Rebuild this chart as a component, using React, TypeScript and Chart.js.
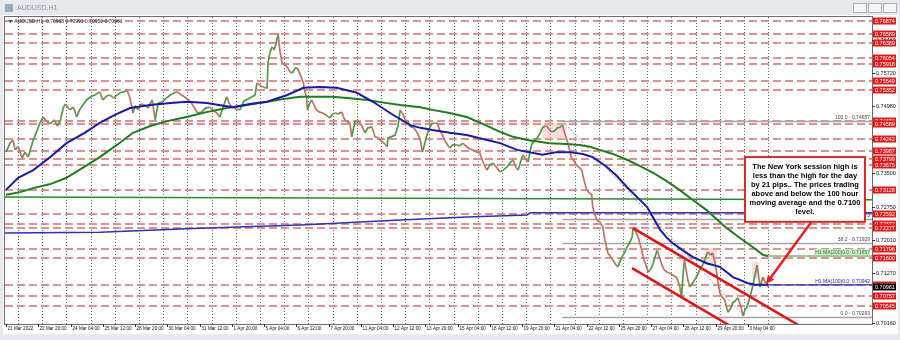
import React, { useEffect, useRef } from "react";
import { Chart, registerables } from "chart.js";
Chart.register(...registerables);

// ---------- DATA (bar index, price) ----------
const priceSeries: [number, number][] = [
  [0,0.7396],[4,0.7416],[7,0.7423],[9,0.7401],[12,0.7408],[16,0.7383],[19,0.7396],[22,0.7385],[24,0.7401],[27,0.7423],
  [31,0.7445],[34,0.7463],[37,0.7474],[40,0.7465],[44,0.7459],[48,0.7468],[51,0.7454],[54,0.7468],[57,0.7496],[59,0.7503],
  [63,0.7490],[67,0.7496],[70,0.7474],[73,0.7490],[77,0.7503],[80,0.7512],[84,0.7519],[88,0.7523],[93,0.7530],[96,0.7512],
  [100,0.7521],[103,0.7523],[107,0.7516],[110,0.7523],[113,0.7528],[117,0.7530],[120,0.7534],[123,0.7516],[126,0.7483],[128,0.7499],
  [131,0.7490],[134,0.7503],[137,0.7501],[141,0.7494],[145,0.7512],[148,0.7468],[151,0.7505],[155,0.7508],[159,0.7516],[163,0.7523],
  [167,0.7528],[170,0.7530],[174,0.7523],[177,0.7519],[181,0.7512],[184,0.7505],[187,0.7494],[190,0.7483],[194,0.7485],[198,0.7494],
  [202,0.7496],[205,0.7490],[209,0.7483],[212,0.7474],[215,0.7494],[219,0.7519],[222,0.7501],[225,0.7496],[228,0.7492],[232,0.7490],
  [236,0.7510],[240,0.7514],[244,0.7519],[247,0.7523],[249,0.7550],[253,0.7543],[257,0.7539],[259,0.7539],[260,0.7597],[262,0.7619],
  [264,0.7630],[266,0.7623],[268,0.7639],[270,0.7661],[271,0.7634],[272,0.7617],[274,0.7594],[277,0.7590],[279,0.7585],[282,0.7574],
  [284,0.7572],[287,0.7583],[289,0.7583],[292,0.7568],[295,0.7550],[296,0.7534],[298,0.7519],[299,0.7490],[301,0.7503],[303,0.7512],
  [306,0.7499],[308,0.7490],[311,0.7485],[314,0.7483],[317,0.7479],[321,0.7472],[324,0.7481],[326,0.7483],[329,0.7481],[333,0.7485],
  [336,0.7468],[339,0.7463],[341,0.7461],[343,0.7430],[346,0.7463],[349,0.7465],[351,0.7461],[354,0.7450],[356,0.7439],[359,0.7450],
  [363,0.7452],[366,0.7430],[369,0.7428],[373,0.7419],[376,0.7414],[378,0.7408],[379,0.7428],[382,0.7430],[386,0.7434],[389,0.7456],
  [391,0.7490],[394,0.7479],[396,0.7468],[399,0.7463],[401,0.7452],[404,0.7452],[408,0.7439],[411,0.7423],[413,0.7396],[415,0.7412],
  [417,0.7430],[420,0.7450],[423,0.7461],[426,0.7459],[428,0.7461],[430,0.7445],[433,0.7434],[436,0.7419],[440,0.7405],[443,0.7412],
  [447,0.7412],[450,0.7410],[453,0.7416],[457,0.7408],[460,0.7403],[463,0.7401],[467,0.7396],[470,0.7394],[473,0.7374],[477,0.7356],
  [480,0.7367],[483,0.7372],[487,0.7361],[490,0.7352],[493,0.7356],[497,0.7363],[500,0.7372],[503,0.7379],[506,0.7361],[508,0.7356],
  [511,0.7379],[513,0.7390],[516,0.7379],[518,0.7374],[520,0.7401],[522,0.7416],[525,0.7423],[527,0.7428],[530,0.7439],[532,0.7450],
  [535,0.7454],[537,0.7452],[540,0.7443],[542,0.7441],[545,0.7445],[547,0.7450],[550,0.7452],[552,0.7456],[554,0.7439],[557,0.7419],
  [559,0.7401],[561,0.7383],[564,0.7374],[566,0.7367],[569,0.7361],[571,0.7356],[574,0.7328],[576,0.7312],[579,0.7305],[581,0.7301],
  [582,0.7274],[584,0.7258],[586,0.7245],[589,0.7241],[592,0.7230],[594,0.7201],[597,0.7172],[600,0.7163],[602,0.7156],[605,0.7145],
  [607,0.7141],[609,0.7152],[611,0.7163],[614,0.7174],[616,0.7185],[619,0.7196],[621,0.7207],[622,0.7227],[625,0.7218],[627,0.7207],
  [630,0.7183],[632,0.7163],[635,0.7143],[637,0.7129],[640,0.7138],[642,0.7149],[644,0.7165],[646,0.7178],[649,0.7156],[651,0.7143],
  [653,0.7134],[656,0.7129],[658,0.7127],[661,0.7123],[665,0.7118],[668,0.7101],[670,0.7074],[672,0.7134],[673,0.7156],[676,0.7116],
  [678,0.7096],[681,0.7105],[683,0.7112],[686,0.7123],[688,0.7134],[691,0.7145],[693,0.7156],[696,0.7174],[699,0.7167],[701,0.7172],
  [703,0.7152],[705,0.7127],[708,0.7083],[711,0.7072],[713,0.7067],[716,0.7040],[719,0.7049],[721,0.7061],[724,0.7067],[726,0.7072],
  [729,0.7052],[731,0.7032],[733,0.7045],[735,0.7052],[738,0.7074],[741,0.7101],[743,0.7123],[745,0.7145],[747,0.7112],[748,0.7096],
  [750,0.7112],[751,0.7118],[753,0.7107],[755,0.7105],[756,0.7096],
];

const ma100Series: [number, number][] = [
  [0,0.7312],[12,0.7339],[27,0.7356],[44,0.7385],[60,0.7416],[78,0.7439],[93,0.7461],[108,0.7479],[123,0.7494],[143,0.7501],
  [163,0.7505],[180,0.7508],[199,0.7505],[225,0.7496],[242,0.7503],[259,0.7508],[279,0.7523],[295,0.7539],[311,0.7541],[328,0.7539],
  [348,0.7528],[364,0.7508],[381,0.7483],[401,0.7456],[411,0.7450],[423,0.7445],[440,0.7439],[457,0.7434],[473,0.7425],[490,0.7416],
  [507,0.7401],[523,0.7394],[532,0.7390],[546,0.7396],[559,0.7396],[572,0.7392],[582,0.7385],[596,0.7363],[606,0.7343],[616,0.7318],
  [626,0.7296],[636,0.7274],[642,0.7250],[649,0.7223],[655,0.7207],[661,0.7194],[671,0.7178],[681,0.7163],[695,0.7149],[708,0.7141],
  [715,0.7129],[721,0.7118],[728,0.7112],[735,0.7105],[743,0.7101],[751,0.7101],[756,0.7101],
];

const ma200Series: [number, number][] = [
  [0,0.7301],[14,0.7307],[27,0.7316],[44,0.7325],[60,0.7339],[76,0.7361],[93,0.7385],[110,0.7412],[126,0.7439],[143,0.7454],
  [160,0.7465],[179,0.7474],[199,0.7485],[219,0.7494],[239,0.7501],[259,0.7508],[275,0.7514],[292,0.7519],[308,0.7519],[324,0.7519],
  [341,0.7516],[358,0.7512],[378,0.7505],[391,0.7501],[411,0.7496],[423,0.7490],[440,0.7483],[457,0.7474],[473,0.7459],[490,0.7441],
  [503,0.7430],[517,0.7423],[539,0.7416],[556,0.7414],[569,0.7412],[579,0.7408],[589,0.7401],[602,0.7392],[616,0.7379],[629,0.7365],
  [642,0.7350],[655,0.7332],[668,0.7312],[681,0.7290],[695,0.7267],[705,0.7247],[715,0.7227],[725,0.7210],[735,0.7194],[743,0.7181],
  [751,0.7167],[756,0.7165],
];

const dailyGreenSeries: [number, number][] = [[-1,0.7296],[859,0.7290]];
const dailyBlueSeries: [number, number][] = [
  [-1,0.7216],[93,0.7218],[192,0.7227],[292,0.7234],[391,0.7245],[457,0.7252],[517,0.7256],[520,0.7261],[859,0.7261],
];

const channelUpper: [number, number][] = [[622,0.7227],[800,0.6993]];
const channelLower: [number, number][] = [[621,0.7138],[740,0.6981]];
const fibTrend: [number, number][] = [[552,0.74657],[733,0.70293]];

const levelPrices = [
  0.76874,0.76589,0.76389,0.76054,0.75918,0.75549,0.75352,0.74656,0.74589,0.74242,0.73987,
  0.73799,0.73675,0.73128,0.72592,0.72372,0.72277,0.71796,0.71600,0.71005,0.70757,0.70545,
];
const axisTicks = [0.76460,0.75720,0.74980,0.74240,0.73500,0.72750,0.72010,0.71270,0.70160];
const currentPrice = 0.70961;

const fibValues = [0.74657,0.72475,0.71929,0.70293];
const fibNames = ["100.0","50.0","38.2","0.0"];
const fibStartBar = 552;

const dateLabels = [
  "21 Mar 2022","22 Mar 20:00","24 Mar 04:00","25 Mar 12:00","28 Mar 20:00","30 Mar 04:00","31 Mar 12:00",
  "1 Apr 20:00","5 Apr 04:00","6 Apr 12:00","7 Apr 20:00","11 Apr 04:00","12 Apr 12:00","13 Apr 20:00",
  "15 Apr 04:00","18 Apr 12:00","19 Apr 20:00","21 Apr 04:00","22 Apr 12:00","25 Apr 20:00","27 Apr 04:00",
  "28 Apr 12:00","29 Apr 20:00","3 May 04:00",
];
const barsPerLabel = 32;
const firstGridBar = 12;
const barsPerDay = 24;
const lastBar = 756;

const ma100Label = "H1 MA(100)0.0: 0.70942";
const ma200Label = "H1 MA(200)0.0: 0.71657";
const headerText = "\u25BC AUDUSD,H1  0.70968 0.70991 0.70950 0.70961";
const windowTitle = "AUDUSD,H1";
const noteLines = [
  "The New York session high is",
  "less than the high for the day",
  "by 21 pips.. The prices trading",
  "above and below the 100 hour",
  "moving average and the 0.7100",
  "level.",
];
// annotation anchor (bar, price)
const noteBox = { b0: 733, b1: 852, p0: 0.7385, p1: 0.7241 };
const arrowFrom: [number, number] = [799, 0.7241];
const arrowTo: [number, number] = [754, 0.7103];
const highlightRects: [number, number, number, number][] = [
  [532, 556, 0.7461, 0.7425],
  [693, 705, 0.7183, 0.7145],
  [740, 747, 0.7152, 0.7116],
];

const FONT = "Liberation Sans, Arial, sans-serif";

const toXY = (s: [number, number][]) => s.map(([x, y]) => ({ x, y }));

export default function App() {
  const ref = useRef<HTMLCanvasElement | null>(null);
  useEffect(() => {
    document.body.style.margin = "0";
    const canvas = ref.current!;
    const chromePlugin = {
      id: "mt4",
      beforeDraw(chart: any) {
        const { ctx } = chart;
        ctx.save();
        ctx.fillStyle = "#e6eaef";
        ctx.fillRect(0, 0, 900, 340);
        ctx.fillStyle = "#ffffff";
        ctx.fillRect(3, 15, 895, 319);
        ctx.fillStyle = "#9aa8b8";
        ctx.fillRect(5, 4, 8, 8);
        ctx.fillStyle = "#8a96a6";
        ctx.font = `7px ${FONT}`;
        ctx.textBaseline = "middle";
        ctx.fillText(windowTitle, 17, 8.5);
        ctx.strokeStyle = "#a8b0ba";
        ctx.lineWidth = 1;
        [853, 868, 883].forEach((x) => {
          ctx.fillStyle = "#f3f5f8";
          ctx.fillRect(x, 3, 13, 9);
          ctx.strokeRect(x + 0.5, 3.5, 13, 9);
        });
        ctx.restore();
      },
      beforeDatasetsDraw(chart: any) {
        const { ctx, chartArea: a, scales } = chart;
        const xs = scales.x, ys = scales.y;
        ctx.save();
        ctx.beginPath();
        ctx.rect(a.left, a.top, a.right - a.left, a.bottom - a.top);
        ctx.clip();
        ctx.strokeStyle = "#6a6a6a";
        ctx.lineWidth = 1;
        ctx.setLineDash([1, 2]);
        for (let b = firstGridBar; b <= lastBar; b += barsPerDay) {
          const x = Math.round(xs.getPixelForValue(b)) + 0.5;
          ctx.beginPath();
          ctx.moveTo(x, a.top);
          ctx.lineTo(x, a.bottom);
          ctx.stroke();
        }
        ctx.strokeStyle = "#d89494";
        ctx.lineWidth = 2;
        ctx.setLineDash([8, 4]);
        levelPrices.forEach((p) => {
          const y = Math.round(ys.getPixelForValue(p));
          ctx.beginPath();
          ctx.moveTo(a.left, y);
          ctx.lineTo(a.right, y);
          ctx.stroke();
        });
        ctx.setLineDash([]);
        ctx.fillStyle = "rgba(238,180,180,0.45)";
        highlightRects.forEach(([b0, b1, p0, p1]) => {
          const x0 = xs.getPixelForValue(b0), x1 = xs.getPixelForValue(b1);
          const y0 = ys.getPixelForValue(p0), y1 = ys.getPixelForValue(p1);
          ctx.fillRect(x0, y0, x1 - x0, y1 - y0);
        });
        ctx.strokeStyle = "#a4a4a4";
        ctx.lineWidth = 1.5;
        const fx = xs.getPixelForValue(fibStartBar);
        fibValues.forEach((p, i) => {
          const y = Math.round(ys.getPixelForValue(p)) + 0.5;
          ctx.beginPath();
          ctx.moveTo(fx, y);
          ctx.lineTo(a.right, y);
          ctx.stroke();
          ctx.fillStyle = "#444";
          ctx.font = `5px ${FONT}`;
          ctx.textAlign = "right";
          ctx.textBaseline = "bottom";
          ctx.fillText(`${fibNames[i]} - ${p.toFixed(5)}`, a.right - 2, y - 1);
        });
        ctx.restore();
      },
      afterDatasetsDraw(chart: any) {
        const { ctx, chartArea: a, scales } = chart;
        const xs = scales.x, ys = scales.y;
        ctx.save();
        ctx.font = `5px ${FONT}`;
        ctx.textAlign = "right";
        ctx.textBaseline = "bottom";
        const gy = ys.getPixelForValue(ma200Series[ma200Series.length - 1][1]);
        ctx.fillStyle = "rgba(200,235,200,0.9)";
        ctx.fillRect(a.right - 58, gy - 7, 56, 6);
        ctx.fillStyle = "#1e7a1e";
        ctx.fillText(ma200Label, a.right - 2, gy - 1);
        const by = ys.getPixelForValue(ma100Series[ma100Series.length - 1][1]);
        ctx.fillStyle = "#2020a0";
        ctx.fillText(ma100Label, a.right - 2, by - 1);
        const bx0 = xs.getPixelForValue(noteBox.b0), bx1 = xs.getPixelForValue(noteBox.b1);
        const by0 = ys.getPixelForValue(noteBox.p0), by1 = ys.getPixelForValue(noteBox.p1);
        ctx.fillStyle = "#ffffff";
        ctx.fillRect(bx0, by0, bx1 - bx0, by1 - by0);
        ctx.strokeStyle = "#d42a2a";
        ctx.lineWidth = 2;
        ctx.strokeRect(bx0, by0, bx1 - bx0, by1 - by0);
        ctx.fillStyle = "#000";
        ctx.font = `bold 7.5px ${FONT}`;
        ctx.textAlign = "center";
        ctx.textBaseline = "middle";
        noteLines.forEach((t, i) => ctx.fillText(t, (bx0 + bx1) / 2, by0 + 10 + i * 9));
        const ax0 = xs.getPixelForValue(arrowFrom[0]), ay0 = ys.getPixelForValue(arrowFrom[1]);
        const ax1 = xs.getPixelForValue(arrowTo[0]), ay1 = ys.getPixelForValue(arrowTo[1]);
        const ang = Math.atan2(ay1 - ay0, ax1 - ax0);
        ctx.strokeStyle = "#e82020";
        ctx.fillStyle = "#e82020";
        ctx.lineWidth = 2.5;
        ctx.beginPath();
        ctx.moveTo(ax0, ay0);
        ctx.lineTo(ax1 - 6 * Math.cos(ang), ay1 - 6 * Math.sin(ang));
        ctx.stroke();
        ctx.beginPath();
        ctx.moveTo(ax1, ay1);
        ctx.lineTo(ax1 - 9 * Math.cos(ang - 0.45), ay1 - 9 * Math.sin(ang - 0.45));
        ctx.lineTo(ax1 - 9 * Math.cos(ang + 0.45), ay1 - 9 * Math.sin(ang + 0.45));
        ctx.closePath();
        ctx.fill();
        ctx.strokeStyle = "#6e6e6e";
        ctx.lineWidth = 1;
        ctx.strokeRect(a.left - 0.5, a.top - 0.5, a.right - a.left + 1, a.bottom - a.top + 1);
        ctx.fillStyle = "#222";
        ctx.font = `5px ${FONT}`;
        ctx.textAlign = "left";
        ctx.textBaseline = "middle";
        ctx.fillText(headerText, a.left + 3, a.top + 5);
        ctx.font = `5.5px ${FONT}`;
        axisTicks.forEach((p) => {
          const y = Math.round(ys.getPixelForValue(p));
          ctx.strokeStyle = "#333";
          ctx.beginPath();
          ctx.moveTo(a.right, y + 0.5);
          ctx.lineTo(a.right + 3, y + 0.5);
          ctx.stroke();
          ctx.fillStyle = "#111";
          ctx.fillText(p.toFixed(5), a.right + 4, y + 0.5);
        });
        levelPrices.forEach((p) => {
          const y = Math.round(ys.getPixelForValue(p));
          ctx.fillStyle = "#e11b1b";
          ctx.fillRect(a.right + 1, y - 3.5, 23, 7);
          ctx.fillStyle = "#fff";
          ctx.fillText(p.toFixed(5), a.right + 3, y + 0.5);
        });
        const cy = Math.round(ys.getPixelForValue(currentPrice));
        ctx.fillStyle = "#000";
        ctx.fillRect(a.right + 1, cy - 3.5, 23, 7);
        ctx.fillStyle = "#fff";
        ctx.fillText(currentPrice.toFixed(5), a.right + 3, cy + 0.5);
        ctx.font = `4.6px ${FONT}`;
        ctx.fillStyle = "#111";
        dateLabels.forEach((t, i) => {
          const x = Math.round(xs.getPixelForValue(i * barsPerLabel)) + 0.5;
          ctx.strokeStyle = "#333";
          ctx.beginPath();
          ctx.moveTo(x, a.bottom);
          ctx.lineTo(x, a.bottom + 3);
          ctx.stroke();
          ctx.fillText(t, x + 1, a.bottom + 4.5);
        });
        ctx.restore();
      },
    };

    const line = (data: [number, number][], color: string, width: number, extra: any = {}) => ({
      data: toXY(data),
      borderColor: color,
      borderWidth: width,
      pointRadius: 0,
      fill: false,
      tension: 0,
      ...extra,
    });
    const lastMa100 = ma100Series[ma100Series.length - 1];
    const lastMa200 = ma200Series[ma200Series.length - 1];

    const chart = new Chart(canvas, {
      type: "line",
      data: {
        datasets: [
          line(channelUpper, "#e01414", 2.5),
          line(channelLower, "#e01414", 2.5),
          line(ma100Series, "#1a1aa6", 2),
          line(ma200Series, "#1e7d1e", 2),
          line([lastMa100, [859, lastMa100[1]]], "#2a2ab4", 1.2),
          line([lastMa200, [859, lastMa200[1]]], "#3a9a3a", 1.2),
          line(priceSeries, "#5b9c55", 1.7, {
            segment: {
              borderColor: (c: any) => (c.p1.parsed.y >= c.p0.parsed.y ? "#4f9a4a" : "#c07468"),
            },
          }),
          line(fibTrend, "#9a9a9a", 1, { borderDash: [2, 2] }),
          line(dailyGreenSeries, "#2c8a2c", 1.5),
          line(dailyBlueSeries, "#3030b4", 1.5),
        ],
      },
      options: {
        animation: false,
        responsive: false,
        devicePixelRatio: 1,
        parsing: false,
        layout: { padding: { left: 5, right: 28, top: 17, bottom: 16 } },
        plugins: { legend: { display: false }, tooltip: { enabled: false } },
        scales: {
          x: { type: "linear", min: -1, max: 859, display: false },
          y: { type: "linear", min: 0.70138, max: 0.76965, display: false },
        },
      },
      plugins: [chromePlugin],
    } as any);
    return () => chart.destroy();
  }, []);
  return <canvas ref={ref} width={900} height={340} style={{ display: "block" }} />;
}
